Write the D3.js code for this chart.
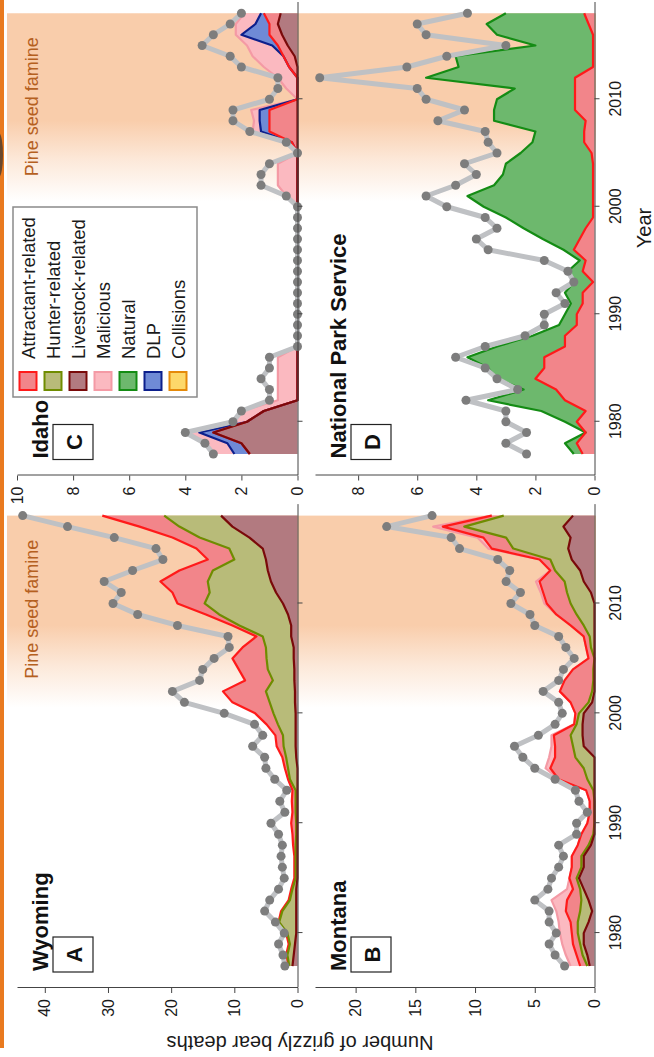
<!DOCTYPE html>
<html>
<head>
<meta charset="utf-8">
<script src="https://cdn.jsdelivr.net/npm/d3@7"></script>
<style>
  body { margin: 0; background: #fff; }
  svg { display: block; font-family: "Liberation Sans", Arial, sans-serif; }
</style>
</head>
<body>
<div id="chart"></div>
<script>
// ---- DATA ----
const years = [1977,1978,1979,1980,1981,1982,1983,1984,1985,1986,1987,1988,1989,1990,1991,1992,1993,1994,1995,1996,1997,
  1998,1999,2000,2001,2002,2003,2004,2005,2006,2007,2008,2009,2010,2011,2012,2013,2014,2015,2016,2017,2018];

// Wyoming (A)
const wyLivestock = [0.8,0.6,0.4,0.2,0.2,0.2,0.2,0.2, 0,0,0,0,0,0,0,0,0,0,0,
  0.2,0.3,0.3,0.3,0.3,0.4,0.4,0.5,0.5,0.6,0.6, 1.0,1.0,1.5,2.3,3.4,4.2,4.7,5.0,5.5,7.6,10.3,12.1];
const wyHunter = [0.5,1.0,0.8,1.4,2.7,2.2,1.0,0.6, 0.3,0.3,0.3,0.3,0.2,0.2,0.3,0.3,0.3,1.2,1.5,
  1.6,1.9,2.0,2.8,3.5,4.0,4.6,3.4,4.2,4.3,4.4, 4.5,8.2,10.9,12.4,10.5,10.0,8.7,5.0,5.3,7.9,8.4,9.0];
const wyAttractant = [0.2,0.2,0.2,0.2,0.1,0.2,0.2,0.2, 0.2,0.2,0.2,0.4,0.6,0.8,0.5,0.6,0.5,0.3,0.5,
  0.6,1.1,1.2,1.8,2.9,5.9,6.8,4.4,4.6,5.4,3.7, 1.0,1.1,2.1,4.3,5.9,7.5,5.3,4.2,5.2,4.3,6.3,9.8];
const wyTotal = [2,2.3,3,2.1,3.5,5.2,4.4,3,2.1,2.4,2.6,2.4,3,4.2,2,2.8,1.7,
  3.6,5,5.2,7.1,5.5,6.8,11.6,17.9,19.8,15.5,15,13.2,10.8,11,19,25.3,29.2,27.9,30.6,26.1,21.3,22.4,29,36.4,43.5];

// Idaho (C)
const idLivestock = [1.7,2.0,3.0,1.8,1.2, 0,0,0,0,0,0,0,0,0,0,0,0,0,0,0,0,0,0,0,0,0,0,0,0,0,0,0,0,0,0,0,0,
  0.1,0.35,0.55,0.7,0.6];
const idAttractant = [0,0,0,0,0,0,0,0,0,0,0,0,0,0,0,0,0,0,0,0,0,0,0,0,0,0,0,0,0,
  0.2,1.0,1.0,1.0,0,0,0,0.3,0.4,0.35,0.45,0.3,0.6];
const idDLP = [0.55,0.5,0.5, 0,0,0,0,0,0,0,0,0,0,0,0,0,0,0,0,0,0,0,0,0,0,0,0,0,0,0,
  0.3,0.35,0.35, 0,0,0,0,0, 0.2,1.0,0.5,0.1];
const idMalicious = [0.65,0.8,0.5,0.5,0.8,0.7,0.7,0.7,0.7,0.7, 0,0,0,0,0,0,0,0,0,0,0,0,0,
  0,0.4,0.7,0.7,0.7,0,0,0.3,0.2,0.3,0,0.4,0.7,0.9,1.1,0.9,0.2,0.7,0.6];
const idTotal = [3.0,3.3,4.0,2.3,2.0,1.0,1.0,1.3,1.0,1.0, 0,0,0,0,0,0,0,0,0,0,0,0,0,0,
  0.4,1.3,1.3,1.0,0,0.4,1.7,2.3,2.3,1.0,0.7,0.7,2.0,2.4,3.4,3.0,2.4,2.0];

// Montana (B)
const mtLivestock = [0.4,0.6,0.9,0.9,0.5,0.2,0.5,0.9,1.3,0.9,0.9,0.3, 0,0,0,0,0,0,0,0,
  0.9,1.0,1.0,0.9,0.2, 0,0,0,0,0,0,0,0,0, 0.3,0.9,1.2,1.9,2.2,2.0,2.6,1.8];
const mtHunter = [0.2,0.4,0.3,0.5,0.9,1.0,0.6,0.3,0.2,0.2,0.2,0.2, 0.1,0,0,0,0.1,0.6,0.9,1.6,
  0.9,1.0,0.5,0.4,0.3, 0.2,0.1,0.1,0,0.3,0.4,0.9,1.5,2.0, 2.0,1.6,2.1,1.8,4.6,5.4,8.3,5.8];
const mtAttractant = [0.6,0.5,0.6,0.5,0.6,1.2,1.2,0.6,0.6,0.8,0.8,0.9, 1.0,0.6,0.4,0.4,0.6,2.4,2.8,1.7,
  1.5,1.4,0.2,0.3,1.5, 2.7,2.4,1.7,0.5,0.4,0.5,1.1,1.7,2.0, 2.0,2.1,0.4,0.9,1.8,1.9,1.8,1.0];
const mtMalicious = [0.8,0.9,0.9,1.0,1.0,0.8,1.3,0.5,0,0,0,0, 0,0,0,0,0,0,0.4,0.5,
  0.3,0.2,0,0,0, 0,0,0,0,0,0,0,0,0.2, 0.2,0.3,0,0,0.3,0.5,0.8,0];
const mtTotal = [2.5,3.3,3.8,3.2,3.8,3.8,5.0,3.9,3.6,3.0,2.6,3.0, 1.5,1.5,0.6,1.3,1.6,3.3,5.0,6.0,
  6.7,4.7,3.3,2.7,3.0, 4.3,3.0,2.6,1.7,2.4,3.0,5.0,5.4,7.0, 6.2,7.4,7.1,8.1,11.3,12.0,17.4,13.6];

// National Park Service (D)
const npAttractant = [0.4,0.6,0.3,0.6,0.3,1.0,1.3,2.0,1.7,1.7, 1.0,1.0,0.6,0.6,0.4,0.4,0.05,0.4,0.3,0.7,
  0.5,0.3,0.05,0.05,0.05,0.05,0.05,0.05,0.1,0.35, 0.35,0.3,0.66,0.66,0.66,0.66,0.05,0.05,0.05,0.05,0.2,0.35];
const npNatural = [0.3,0.4,0,0.4,1.5,2.6,1.1,1.3,1.9,2.6, 2.3,1.1,0.6,0.4,0.4,0.6,0.65,0.5,0.2,0.35,
  1.25,2.1,2.95,3.7,4.25,3.35,3.05,2.95,2.4,1.75, 1.65,3.1,2.74,2.64,2.04,5.04,4.55,4.65,1.95,3.25,3.45,2.65];
const npTotal = [2.3,3.0,2.3,3.0,3.0,4.35,2.6,3.3,3.7,4.7, 3.7,2.35,1.7,1.7,1.0,1.3,0.7,0.9,1.7,3.6,
  4.0,3.3,3.7,5.0,5.7,4.7,4.0,4.4,3.3,3.6, 3.7,5.3,4.4,5.7,6.0,9.3,6.35,5.0,3.0,5.7,6.0,4.3];

// legend / causes
const causeNames = ['Attractant-related','Hunter-related','Livestock-related','Malicious','Natural','DLP','Collisions'];
const causeKeys  = ['attractant','hunter','livestock','malicious','natural','dlp','collisions'];
const causeFill  = ['#f2858a','#b8bb79','#b27a80','#fbb9c0','#6db86d','#6f8ad6','#fdd86a'];
const causeLine  = ['#ff1a1a','#6f8c00','#7a0a0a','#f49aa5','#148c14','#0c1f8c','#e58a0a'];
const stackOrder = ['livestock','hunter','attractant','dlp','malicious','natural','collisions'];

const yearTicks = [1980, 1990, 2000, 2010];

// ---- LAYOUT (chart is built landscape, then turned a quarter left) ----
const W = 1057, H = 654;
const cols = [{x0: 69, x1: 541.4}, {x0: 581.5, x1: 1043.75}];
const rows = [{top: 17, base: 297.5}, {top: 315, base: 594.5}];

const panels = [
  {name: 'Wyoming', letter: 'A', col: 0, row: 0, ymax: 44.4, ticks: [0,10,20,30,40],
   series: {livestock: wyLivestock, hunter: wyHunter, attractant: wyAttractant}, total: wyTotal, famine: true},
  {name: 'Idaho', letter: 'C', col: 1, row: 0, ymax: 10, ticks: [0,2,4,6,8,10],
   series: {livestock: idLivestock, attractant: idAttractant, dlp: idDLP, malicious: idMalicious}, total: idTotal, famine: true},
  {name: 'Montana', letter: 'B', col: 0, row: 1, ymax: 23.4, ticks: [0,5,10,15,20],
   series: {livestock: mtLivestock, hunter: mtHunter, attractant: mtAttractant, malicious: mtMalicious}, total: mtTotal, famine: false},
  {name: 'National Park Service', letter: 'D', col: 1, row: 1, ymax: 9.46, ticks: [0,2,4,6,8],
   series: {attractant: npAttractant, natural: npNatural}, total: npTotal, famine: false}
];

const fillOf = {}, lineOf = {};
causeKeys.forEach((k, i) => { fillOf[k] = causeFill[i]; lineOf[k] = causeLine[i]; });

const svg = d3.select('#chart').append('svg').attr('width', H).attr('height', W);

// orange strip + dark smudge at the left edge of the scan
svg.append('rect').attr('x', 0).attr('y', 0).attr('width', 4).attr('height', 1048).attr('fill', '#e97a1f');
svg.append('ellipse').attr('cx', -1).attr('cy', 155).attr('rx', 4).attr('ry', 22).attr('fill', '#333').attr('opacity', 0.7);

const defs = svg.append('defs');
const grad = defs.append('linearGradient').attr('id', 'famineGrad')
  .attr('x1', 0).attr('x2', 1).attr('y1', 0).attr('y2', 0);
grad.append('stop').attr('offset', 0).attr('stop-color', '#f9cdab').attr('stop-opacity', 0);
grad.append('stop').attr('offset', 0.22).attr('stop-color', '#f9cdab').attr('stop-opacity', 0.45);
grad.append('stop').attr('offset', 0.43).attr('stop-color', '#f9cdab').attr('stop-opacity', 1);
grad.append('stop').attr('offset', 1).attr('stop-color', '#f9cdab').attr('stop-opacity', 1);

const g = svg.append('g').attr('transform', `translate(0,${W}) rotate(-90)`);

// pine seed famine shading, one band per column
cols.forEach(c => {
  const x = d3.scaleLinear().domain([1975, 2018]).range([c.x0, c.x1]);
  g.append('rect')
    .attr('x', x(2000.5)).attr('y', 7)
    .attr('width', x(2018) - x(2000.5)).attr('height', 589)
    .attr('fill', 'url(#famineGrad)');
});

panels.forEach(p => {
  const c = cols[p.col], r = rows[p.row];
  const x = d3.scaleLinear().domain([1975, 2018]).range([c.x0, c.x1]);
  const y = d3.scaleLinear().domain([0, p.ymax]).range([r.base, r.top]);
  const pg = g.append('g');

  const keys = stackOrder.filter(k => p.series[k]);
  const table = years.map((yr, i) => {
    const row = {year: yr};
    keys.forEach(k => { row[k] = p.series[k][i]; });
    return row;
  });
  const stacked = d3.stack().keys(keys)(table);

  const area = d3.area().x(d => x(d.data.year)).y0(d => y(d[0])).y1(d => y(d[1]));
  const edge = d3.line().x(d => x(d.data.year)).y(d => y(d[1]));

  pg.append('g').selectAll('path').data(stacked).join('path')
    .attr('d', area).attr('fill', d => fillOf[d.key]);

  pg.append('g').selectAll('path').data(stacked.slice().reverse()).join('path')
    .attr('d', edge).attr('fill', 'none')
    .attr('stroke', d => lineOf[d.key]).attr('stroke-width', 2.2)
    .attr('stroke-linejoin', 'round');

  // total deaths
  const totals = years.map((yr, i) => ({year: yr, v: p.total[i]}));
  pg.append('path').datum(totals)
    .attr('d', d3.line().x(d => x(d.year)).y(d => y(d.v)))
    .attr('fill', 'none').attr('stroke', '#bfc1c4').attr('stroke-width', 5)
    .attr('stroke-linejoin', 'round');
  pg.append('g').selectAll('circle').data(totals).join('circle')
    .attr('cx', d => x(d.year)).attr('cy', d => y(d.v)).attr('r', 4.5)
    .attr('fill', '#7d7d7d');

  // value axis
  const ya = pg.append('g').attr('transform', `translate(${c.x0},0)`)
    .call(d3.axisLeft(y).tickValues(p.ticks).tickSize(5).tickSizeOuter(0).tickPadding(6));
  ya.attr('font-size', 16).attr('font-family', null).attr('color', '#444');
  ya.selectAll('text').attr('fill', '#1a1a1a');

  // year axis
  const xa = d3.scaleLinear().domain([1975, 2019]).range([x(1975), x(2019)]);
  const xAxis = d3.axisBottom(xa).tickValues(yearTicks).tickSize(5).tickSizeOuter(0).tickPadding(10)
    .tickFormat(p.row === 1 ? d3.format('d') : () => '');
  const xg = pg.append('g').attr('transform', `translate(0,${r.base})`).call(xAxis);
  xg.attr('font-size', 16).attr('font-family', null).attr('color', '#444');
  xg.selectAll('text').attr('fill', '#1a1a1a');

  // titles
  pg.append('text').attr('x', c.x0 + 17).attr('y', r.top + 31)
    .attr('font-size', 22).attr('font-weight', 'bold').attr('fill', '#111').text(p.name);
  pg.append('rect').attr('x', c.x0 + 16).attr('y', r.top + 36).attr('width', 35).attr('height', 40)
    .attr('fill', '#fff').attr('stroke', '#222').attr('stroke-width', 1.2);
  pg.append('text').attr('x', c.x0 + 33.5).attr('y', r.top + 57)
    .attr('text-anchor', 'middle').attr('dominant-baseline', 'central')
    .attr('font-size', 22).attr('font-weight', 'bold').attr('fill', '#111').text(p.letter);

  if (p.famine) {
    pg.append('text').attr('x', c.x1 - 24).attr('y', r.top + 21)
      .attr('text-anchor', 'end').attr('font-size', 18).attr('fill', '#b5601f')
      .text('Pine seed famine');
  }
});

// legend
const lg = g.append('g');
lg.append('rect').attr('x', 660).attr('y', 13).attr('width', 190).attr('height', 184)
  .attr('fill', '#fff').attr('stroke', '#8a8a8a').attr('stroke-width', 1.5);
const items = lg.selectAll('g.item').data(causeNames).join('g').attr('class', 'item')
  .attr('transform', (d, i) => `translate(0,${28 + i * 25})`);
items.append('rect').attr('x', 667).attr('y', -8.5).attr('width', 18).attr('height', 17)
  .attr('fill', (d, i) => causeFill[i]).attr('stroke', (d, i) => causeLine[i]).attr('stroke-width', 2);
items.append('text').attr('x', 698).attr('y', 0).attr('dominant-baseline', 'central')
  .attr('font-size', 18.5).attr('fill', '#1a1a1a').text(d => d);

// axis titles
g.append('text').attr('transform', 'translate(21,300) rotate(-90)')
  .attr('text-anchor', 'middle').attr('font-size', 20).attr('fill', '#1a1a1a')
  .text('Number of grizzly bear deaths');
g.append('text').attr('x', 829).attr('y', 651)
  .attr('text-anchor', 'middle').attr('font-size', 20).attr('fill', '#1a1a1a')
  .text('Year');
</script>
</body>
</html>
